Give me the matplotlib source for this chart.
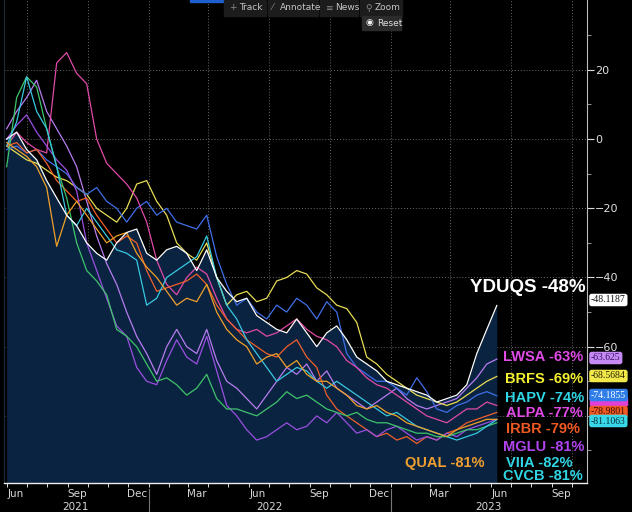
import matplotlib
matplotlib.use("Agg")
import matplotlib.pyplot as plt
import matplotlib.dates as mdates
import matplotlib.transforms as mtransforms
import pandas as pd

# half-monthly readings, Jun 2021 .. Jun 2023 (% change)
dates = pd.date_range("2021-06-01", "2023-06-10", periods=50)

yduqs = [0, 2, -3, -6, -12, -17, -22, -25, -30, -33,
         -35, -30, -27, -26, -33, -35, -32, -31, -33, -38,
         -32, -40, -44, -47, -46, -51, -53, -55, -56, -52,
         -56, -60, -56, -54, -58, -63, -65, -67, -70, -71,
         -72, -73, -74, -76, -75, -74, -71, -62, -55, -48.1]
lwsa = [3, 8, 12, 17, 8, 3, -2, -8, -18, -28,
        -36, -42, -50, -57, -62, -68, -60, -55, -60, -62,
        -55, -64, -70, -72, -75, -78, -74, -70, -66, -68,
        -65, -70, -67, -72, -74, -76, -78, -76, -74, -72,
        -75, -77, -78, -77, -76, -75, -72, -69, -65, -63.6]
brfs = [-2, -4, -6, -7, -9, -11, -12, -14, -16, -20,
        -22, -24, -20, -13, -12, -18, -22, -30, -33, -35,
        -30, -40, -48, -45, -44, -47, -46, -41, -40, -38,
        -39, -43, -45, -48, -49, -53, -63, -65, -68, -70,
        -72, -74, -75, -76, -77, -76, -74, -72, -70, -68.6]
hapv = [-3, -2, -4, -3, -6, -8, -10, -14, -16, -14,
        -18, -20, -24, -20, -18, -22, -20, -24, -25, -26,
        -22, -34, -42, -48, -46, -50, -52, -48, -50, -46,
        -48, -52, -47, -50, -62, -66, -68, -70, -70, -72,
        -74, -69, -73, -78, -79, -77, -76, -74, -73, -74.2]
alpa = [-2, 2, -1, -3, -4, 22, 25, 19, 16, 0,
        -7, -10, -13, -17, -24, -35, -42, -45, -40, -37,
        -39, -46, -52, -55, -56, -55, -57, -56, -54, -52,
        -55, -57, -58, -60, -64, -66, -69, -71, -72, -74,
        -76, -78, -80, -81, -82, -80, -78, -78, -76, -77]
irbr = [-2, -1, -4, -3, -7, -12, -15, -18, -17, -22,
        -26, -30, -28, -30, -38, -44, -43, -42, -41, -39,
        -42, -48, -52, -55, -58, -60, -62, -63, -60, -58,
        -63, -66, -74, -78, -80, -82, -84, -86, -85, -87,
        -86, -88, -86, -87, -85, -84, -82, -81, -80, -79]
mglu = [0, 4, 7, 2, -2, -6, -9, -15, -30, -38,
        -46, -54, -57, -66, -70, -71, -64, -58, -63, -65,
        -57, -67, -77, -80, -84, -87, -86, -84, -82, -84,
        -83, -80, -82, -79, -82, -85, -84, -86, -84, -83,
        -85, -87, -86, -87, -85, -86, -84, -83, -82, -81]
viia = [-8, 12, 18, 15, 3, -8, -17, -30, -38, -41,
        -45, -55, -57, -60, -65, -70, -69, -71, -74, -72,
        -68, -75, -78, -78, -79, -80, -78, -76, -73, -75,
        -74, -76, -78, -79, -80, -79, -81, -82, -82, -83,
        -84, -85, -85, -86, -86, -85, -84, -84, -83, -82]
cvcb = [-2, 5, 18, 8, 3, -8, -22, -25, -20, -24,
        -28, -32, -33, -35, -48, -46, -40, -38, -36, -34,
        -28, -40, -48, -52, -58, -62, -66, -70, -68, -66,
        -67, -70, -72, -70, -72, -74, -76, -78, -80, -79,
        -81, -83, -84, -85, -86, -87, -86, -85, -83, -81.1]
qual = [-1, -3, -5, -8, -14, -31, -22, -18, -22, -26,
        -30, -28, -27, -33, -37, -40, -44, -48, -46, -47,
        -42, -50, -55, -58, -60, -65, -63, -62, -66, -64,
        -68, -70, -70, -72, -74, -77, -78, -77, -79, -80,
        -82, -83, -84, -85, -86, -84, -83, -82, -81, -81]

series = [lwsa, brfs, hapv, alpa, irbr, mglu, viia, cvcb, qual, yduqs]
series_colors = ["#b77cf0", "#e8dc55", "#3f6fe8", "#e04aa8", "#f0602a",
                 "#9a4fe0", "#3fc46a", "#38c8e0", "#f0a02a", "#ffffff"]

end_labels = ["YDUQS -48%", "LWSA -63%", "BRFS -69%", "HAPV -74%", "ALPA -77%",
              "IRBR -79%", "MGLU -81%", "VIIA -82%", "CVCB -81%", "QUAL -81%"]
end_label_colors = ["#ffffff", "#e04ae6", "#f5f032", "#30d6e6", "#e04ae6",
                    "#f05a22", "#b044f0", "#30d6e6", "#30d6e6", "#f0a030"]

tag_texts = ["-48.1187", "-63.625", "-68.5684", "-74.1855", "-78.9801", "-81.1063"]
tag_colors = ["#ffffff", "#c68af5", "#f2e84a", "#2f7de8", "#f05a22", "#38d8e8"]
tag_text_colors = ["#111111", "#3a1266", "#222200", "#ffffff", "#3a0a00", "#06303a"]

W, H = 632, 512
fig = plt.figure(figsize=(W / 100, H / 100), dpi=100, facecolor="black")
ax = fig.add_axes([4 / W, 1 - 483 / H, 583 / W, 483 / H])
ax.set_facecolor("black")

ax.set_xlim(pd.Timestamp("2021-05-28"), pd.Timestamp("2023-10-24"))
ax.set_ylim(-99.4, 40.2)

# dotted grid: quarter starts and every 20%
grid_kw = dict(color="#6a6a6a", lw=0.7, ls=(0, (1, 2)), zorder=0.5)
for d in pd.date_range("2021-07-01", "2023-10-01", freq="QS"):
    ax.axvline(d, **grid_kw)
for v in [20, 0, -20, -40, -60, -80]:
    ax.axhline(v, **grid_kw)

ax.fill_between(dates, yduqs, -120, color="#0a2341", lw=0, zorder=1)
for vals, col in zip(series, series_colors):
    ax.plot(dates, vals, color=col, lw=0.9, zorder=2)

ax.spines["top"].set_visible(False)
ax.spines["left"].set_color("#1c2c3c")
ax.spines["right"].set_color("#bbbbbb")
ax.spines["right"].set_linewidth(0.8)
ax.spines["bottom"].set_color("#eeeeee")
ax.spines["bottom"].set_linewidth(1.0)

ax.yaxis.tick_right()
ax.set_yticks([20, 0, -20, -40, -60])
ax.set_yticks(list(range(30, -100, -10)), minor=True)
ax.tick_params(axis="y", which="major", length=5, width=0.8, color="#dddddd",
               labelcolor="#e0e0e0", labelsize=8, pad=1)
ax.tick_params(axis="y", which="minor", length=3, width=0.6, color="#aaaaaa")

major_months = pd.date_range("2021-06-01", "2023-09-01", freq="3MS")
ax.set_xticks(mdates.date2num((major_months + pd.Timedelta(days=14)).to_pydatetime()))
ax.set_xticklabels([d.strftime("%b") for d in major_months])
ax.set_xticks(mdates.date2num(pd.date_range("2021-06-01", "2023-10-01", freq="MS").to_pydatetime()),
              minor=True)
ax.tick_params(axis="x", which="major", length=0, labelcolor="#d8d8d8", labelsize=7.5, pad=4)
ax.tick_params(axis="x", which="minor", length=3, width=0.7, color="#dddddd", direction="out")
narrow = ["Liberation Sans Narrow", "DejaVu Sans"]
for lab in ax.get_xticklabels() + ax.get_yticklabels():
    lab.set_family(narrow)

trans = mtransforms.blended_transform_factory(ax.transData, ax.transAxes)
for yr, mid in [("2021", "2021-09-13"), ("2022", "2022-07-02"), ("2023", "2023-05-28")]:
    ax.text(pd.Timestamp(mid), -0.049, yr, transform=trans, ha="center", va="center",
            color="#d8d8d8", fontsize=7.5, family=narrow)
for d in ["2022-01-01", "2023-01-01"]:
    ax.plot([pd.Timestamp(d)] * 2, [-0.012, -0.07], transform=trans, color="#777777",
            lw=0.8, clip_on=False)

# end-value labels
label_pos = [(586, 288, "right"), (503, 357, "left"), (505, 379, "left"), (505, 398, "left"),
             (506, 413, "left"), (506, 429, "left"), (503, 447, "left"), (506, 463, "left"),
             (503, 476, "left"), (405, 463, "left")]
for txt, col, (px, py, ha) in zip(end_labels, end_label_colors, label_pos):
    size = 13.5 if txt.startswith("YDUQS") else 10.5
    fig.text(px / W, 1 - py / H, txt, color=col, fontsize=size, fontweight="bold",
             family="Liberation Sans", ha=ha, va="center", zorder=5)

# ALPA tag, mostly hidden behind the neighbouring tags
fig.patches.append(plt.Rectangle((590 / W, 1 - 405 / H), 37 / W, 8 / H,
                                 transform=fig.transFigure, color="#e040d8", zorder=1))
tag_rows = [300, 358, 376, 395, 412, 421]
for txt, fc, tc, py in zip(tag_texts, tag_colors, tag_text_colors, tag_rows):
    fig.text(591 / W, 1 - py / H, txt, color=tc, fontsize=7, family="Liberation Serif",
             ha="left", va="center", zorder=3,
             bbox=dict(boxstyle="round,pad=0.18,rounding_size=0.25", fc=fc, ec="none"))

# toolbar
fig.patches.append(plt.Rectangle((190 / W, 1 - 2 / H), 55 / W, 2 / H, transform=fig.transFigure,
                                 color="#1f5fd0"))
for x0, x1 in [(224, 266), (268, 318), (320, 358), (360, 402)]:
    fig.patches.append(plt.Rectangle((x0 / W, 1 - 16 / H), (x1 - x0) / W, 16 / H,
                                     transform=fig.transFigure, color="#1c1c1c"))
fig.patches.append(plt.Rectangle((362 / W, 1 - 30 / H), 39 / W, 14 / H,
                                 transform=fig.transFigure, color="#2b2b2b"))
tb_font = ["DejaVu Sans"]
for icon, ix, word, wx in [("+", 229, "Track", 239), ("\u2044", 272, "Annotate", 280),
                           ("\u2261", 325, "News", 335), ("\u26B2", 365, "Zoom", 375)]:
    fig.text(ix / W, 1 - 8 / H, icon, color="#8a8a8a", fontsize=6.5, ha="left", va="center",
             family=tb_font)
    fig.text(wx / W, 1 - 8 / H, word, color="#c4c4c4", fontsize=6.5, ha="left", va="center",
             family=tb_font)
fig.text(366 / W, 1 - 23 / H, "\u25C9", color="#f0f0f0", fontsize=6.5, ha="left", va="center",
         family=tb_font)
fig.text(377 / W, 1 - 23 / H, "Reset", color="#e0e0e0", fontsize=6.5, ha="left", va="center",
         family=tb_font)

fig.savefig("out.png", dpi=100, facecolor="black")
